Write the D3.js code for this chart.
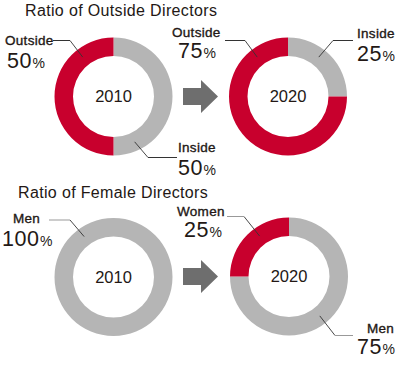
<!DOCTYPE html>
<html>
<head>
<meta charset="utf-8">
<script src="https://cdn.jsdelivr.net/npm/d3@7"></script>
<style>
  body { margin: 0; background: #fff; }
  svg { display: block; }
  text { font-family: "Liberation Sans", Arial, Helvetica, sans-serif; fill: #231815; }
</style>
</head>
<body>
<svg id="chart" width="400" height="365"></svg>
<script>
// ---------- DATA ----------
const titles = ["Ratio of Outside Directors", "Ratio of Female Directors"];
const years = ["2010", "2020"];
const outside2010Cats = ["Inside", "Outside"];
const outside2010Vals = [50, 50];
const outside2020Cats = ["Inside", "Outside"];
const outside2020Vals = [25, 75];
const female2010Cats = ["Men"];
const female2010Vals = [100];
const female2020Cats = ["Men", "Women"];
const female2020Vals = [75, 25];

// ---------- STYLE / LAYOUT ----------
const colorMap = { Outside: "#c8002d", Inside: "#b5b5b5", Men: "#b5b5b5", Women: "#c8002d" };
const outerR = 59, innerR = 40.5, midR = 50;
const svg = d3.select("#chart");

const donuts = [
  { cats: outside2010Cats, vals: outside2010Vals, year: years[0], cx: 113.5, cy: 96.5, hColor: "#333",
    labels: [
      { cat: "Outside", ang: -38, elbow: [70, 40.5], endX: 53, nameX: 5, nameY: 45, valX: 7, valY: 67.5 },
      { cat: "Inside", ang: 155, elbow: [148, 157.5], endX: 177, nameX: 178, nameY: 152, valX: 178, valY: 175 }
    ] },
  { cats: outside2020Cats, vals: outside2020Vals, year: years[1], cx: 288, cy: 96.5, hColor: "#333",
    labels: [
      { cat: "Outside", ang: -38, elbow: [245, 40.5], endX: 225, nameX: 172, nameY: 36.5, valX: 178, valY: 58 },
      { cat: "Inside", ang: 38, elbow: [333, 40.5], endX: 353, nameX: 357, nameY: 38, valX: 357, valY: 61 }
    ] },
  { cats: female2010Cats, vals: female2010Vals, year: years[0], cx: 113.5, cy: 277, hColor: "#999",
    labels: [
      { cat: "Men", ang: -36, elbow: [70, 220], endX: 49, nameX: 13, nameY: 222.5, valX: 2, valY: 245.5 }
    ] },
  { cats: female2020Cats, vals: female2020Vals, year: years[1], cx: 289, cy: 276.5, hColor: "#999",
    labels: [
      { cat: "Women", ang: -36, elbow: [244, 216.5], endX: 227, nameX: 177, nameY: 215.5, valX: 184, valY: 237 }
    ] .concat([
      { cat: "Men", ang: 142, elbow: [335, 335.5], endX: 353, nameX: 367, nameY: 333, valX: 357, valY: 354 }
    ]) }
];

// Titles
svg.append("text").attr("x", 25).attr("y", 16).attr("font-size", 16)
  .attr("letter-spacing", 0.35).text(titles[0]);
svg.append("text").attr("x", 18).attr("y", 198).attr("font-size", 16)
  .attr("letter-spacing", 0.35).text(titles[1]);

const pie = d3.pie().sort(null).value(d => d.v);
const arc = d3.arc().innerRadius(innerR).outerRadius(outerR);

donuts.forEach(dn => {
  const g = svg.append("g").attr("transform", `translate(${dn.cx},${dn.cy})`);
  const data = dn.cats.map((c, i) => ({ c, v: dn.vals[i] }));
  g.selectAll("path").data(pie(data)).join("path")
    .attr("d", arc)
    .attr("fill", d => colorMap[d.data.c]);
  g.append("text").attr("text-anchor", "middle").attr("y", 5.5)
    .attr("font-size", 16.5).text(dn.year);

  dn.labels.forEach(lb => {
    const a = lb.ang * Math.PI / 180;
    const sx = dn.cx + midR * Math.sin(a), sy = dn.cy - midR * Math.cos(a);
    svg.append("line").attr("x1", sx).attr("y1", sy).attr("x2", lb.elbow[0]).attr("y2", lb.elbow[1])
      .attr("stroke", "#333").attr("stroke-width", 0.9);
    svg.append("line").attr("x1", lb.elbow[0]).attr("y1", lb.elbow[1]).attr("x2", lb.endX).attr("y2", lb.elbow[1])
      .attr("stroke", dn.hColor).attr("stroke-width", 1);
    const val = dn.vals[dn.cats.indexOf(lb.cat)];
    svg.append("text").attr("x", lb.nameX).attr("y", lb.nameY)
      .attr("font-size", 13.5).attr("letter-spacing", 0.3)
      .attr("stroke", "#231815").attr("stroke-width", 0.35).text(lb.cat);
    const t = svg.append("text").attr("x", lb.valX).attr("y", lb.valY).attr("font-size", 21.5);
    t.append("tspan").attr("letter-spacing", 0.5).text(val);
    t.append("tspan").attr("font-size", 14).attr("dx", 0.5).text("%");
  });
});

// Arrows
const arrow = d3.line();
[96.5, 276.5].forEach(cy => {
  const pts = [[183, cy - 8.5], [201, cy - 8.5], [201, cy - 16.5], [218, cy], [201, cy + 16.5], [201, cy + 8.5], [183, cy + 8.5]];
  svg.append("path").attr("d", arrow(pts) + "Z").attr("fill", "#6e6e6e");
});
</script>
</body>
</html>
